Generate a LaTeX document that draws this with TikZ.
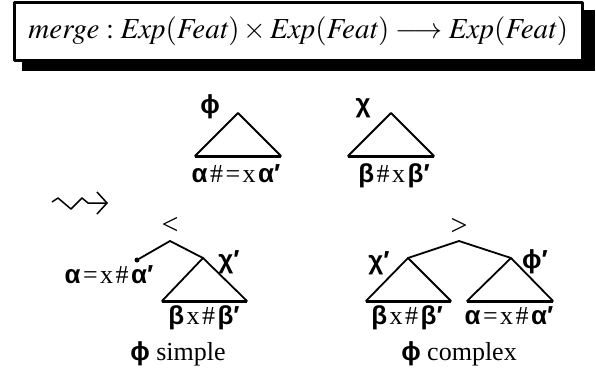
\documentclass[tikz,border=0pt]{standalone}
\usepackage{mathptmx}
\usepackage{fontspec}
\setmainfont{Liberation Serif}
\newfontfamily\grfont{Liberation Sans}
\newcommand{\gr}[1]{{\grfont\bfseries #1}}
\newcommand{\gap}{\kern2.5pt}
\usetikzlibrary{arrows.meta,calc}

\tikzset{
  edge/.style={line width=1.8pt, line cap=round},
  baseline/.style={line width=3pt},
  lab/.style={inner sep=0pt, font=\fontsize{26}{26}\selectfont},
  op/.style={inner sep=0pt, font=\fontsize{30}{30}\selectfont},
  leaf/.style={circle, fill, inner sep=0pt, minimum size=5pt}
}

\begin{document}
\begin{tikzpicture}[x=1pt, y=-1pt, line join=round]
  \useasboundingbox (0,0) rectangle (596,380);

  % signature box with its black shadow
  \fill (22,10) rectangle (595,71);
  \node (sig) [draw, line width=2.5pt, fill=white, minimum width=568pt, minimum height=58pt,
    anchor=north west, font=\fontsize{29}{29}\selectfont] at (13,1)
    {$\mathit{merge} : \mathit{Exp}(\mathit{Feat}) \times \mathit{Exp}(\mathit{Feat}) \longrightarrow \mathit{Exp}(\mathit{Feat})$};

  % the two inputs
  \coordinate (phiTop) at (238,113);
  \coordinate (phiL) at (195,156);
  \coordinate (phiR) at (281,156);
  \draw[edge] (phiL) -- (phiTop) -- (phiR);
  \draw[baseline] (phiL) -- (phiR);
  \node (phiName) [lab] at (210,107) {\gr{ϕ}};
  \node (phiYield) [lab, anchor=base] at (236,182) {\gr{α}\gap\#\gap=\gap x\gap\gr{α′}};

  \coordinate (chiTop) at (391,113);
  \coordinate (chiL) at (348,156);
  \coordinate (chiR) at (434,156);
  \draw[edge] (chiL) -- (chiTop) -- (chiR);
  \draw[baseline] (chiL) -- (chiR);
  \node (chiName) [lab] at (363,108) {\gr{χ}};
  \node (chiYield) [lab, anchor=base] at (394,182) {\gr{β}\gap\#\gap x\gap\gr{β′}};

  % leads to
  \draw[line width=1.5pt, -{Straight Barb[length=10pt, width=22pt, line width=1.5pt]}]
    (52,202) -- (58,198) -- (71,209) -- (82,198) -- (88,203) -- (108,203);

  % phi simple
  \coordinate (sRoot) at (170,241);
  \node (sLeaf) [leaf] at (137,260) {};
  \coordinate (sTop) at (203,258);
  \coordinate (sL) at (162,301);
  \coordinate (sR) at (247,301);
  \node (sHead) [op] at (170,226) {<};
  \draw[edge] (sLeaf) -- (sRoot) -- (sTop);
  \draw[edge] (sL) -- (sTop) -- (sR);
  \draw[baseline] (sL) -- (sR);
  \node (sChi) [lab] at (229,262) {\gr{χ′}};
  \node (sPhiYield) [lab, anchor=base] at (109,283) {\gr{α}\gap=\gap x\gap\#\gap\gr{α′}};
  \node (sChiYield) [lab, anchor=base] at (204,324) {\gr{β}\gap x\gap\#\gap\gr{β′}};
  \node (sCap) [lab, anchor=base] at (178,360) {\gr{ϕ} simple};

  % phi complex
  \coordinate (cRoot) at (459,241);
  \coordinate (cLTop) at (408,258);
  \coordinate (cRTop) at (511,258);
  \coordinate (cLL) at (366,301);
  \coordinate (cLR) at (451,301);
  \coordinate (cRL) at (467,301);
  \coordinate (cRR) at (553,301);
  \node (cHead) [op] at (459,227) {>};
  \draw[edge] (cLTop) -- (cRoot) -- (cRTop);
  \draw[edge] (cLL) -- (cLTop) -- (cLR);
  \draw[edge] (cRL) -- (cRTop) -- (cRR);
  \draw[baseline] (cLL) -- (cLR);
  \draw[baseline] (cRL) -- (cRR);
  \node (cChi) [lab] at (379,263) {\gr{χ′}};
  \node (cPhi) [lab] at (535,262) {\gr{ϕ′}};
  \node (cChiYield) [lab, anchor=base] at (407,324) {\gr{β}\gap x\gap\#\gap\gr{β′}};
  \node (cPhiYield) [lab, anchor=base] at (509,324) {\gr{α}\gap=\gap x\gap\#\gap\gr{α′}};
  \node (cCap) [lab, anchor=base] at (459,360) {\gr{ϕ} complex};
\end{tikzpicture}
\end{document}
